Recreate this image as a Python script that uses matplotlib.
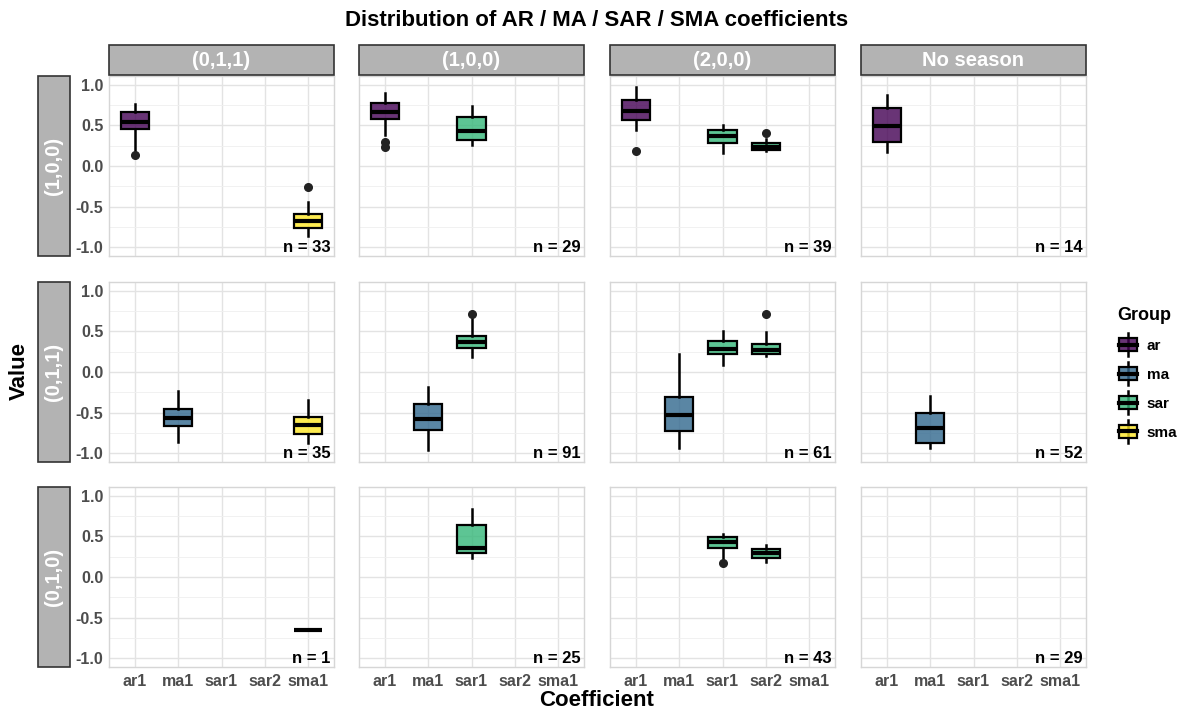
import numpy as np
import matplotlib.pyplot as plt
from matplotlib.patches import Rectangle, Patch
from matplotlib.lines import Line2D
from matplotlib.legend_handler import HandlerBase
from matplotlib.colors import to_rgba

plt.rcParams['font.family'] = ['Liberation Sans', 'DejaVu Sans']

# facets
seasons = ['(0,1,1)', '(1,0,0)', '(2,0,0)', 'No season']
orders = ['(1,0,0)', '(0,1,1)', '(0,1,0)']
coefs = ['ar1', 'ma1', 'sar1', 'sar2', 'sma1']
groups = ['ar', 'ma', 'sar', 'sma']
group_colors = ['#440154', '#31688E', '#35B779', '#FDE725']

# one entry per box
box_order = ['(1,0,0)', '(1,0,0)', '(1,0,0)', '(1,0,0)', '(1,0,0)', '(1,0,0)', '(1,0,0)', '(1,0,0)',
             '(0,1,1)', '(0,1,1)', '(0,1,1)', '(0,1,1)', '(0,1,1)', '(0,1,1)', '(0,1,1)', '(0,1,1)',
             '(0,1,0)', '(0,1,0)', '(0,1,0)', '(0,1,0)']
box_season = ['(0,1,1)', '(0,1,1)', '(1,0,0)', '(1,0,0)', '(2,0,0)', '(2,0,0)', '(2,0,0)', 'No season',
              '(0,1,1)', '(0,1,1)', '(1,0,0)', '(1,0,0)', '(2,0,0)', '(2,0,0)', '(2,0,0)', 'No season',
              '(0,1,1)', '(1,0,0)', '(2,0,0)', '(2,0,0)']
box_coef = ['ar1', 'sma1', 'ar1', 'sar1', 'ar1', 'sar1', 'sar2', 'ar1',
            'ma1', 'sma1', 'ma1', 'sar1', 'ma1', 'sar1', 'sar2', 'ma1',
            'sma1', 'sar1', 'sar1', 'sar2']
whislo = [0.20, -0.86, 0.38, 0.26, 0.45, 0.16, 0.18, 0.17,
          -0.86, -0.88, -0.96, 0.18, -0.94, 0.09, 0.20, -0.94,
          -0.65, 0.24, 0.24, 0.19]
q1 = [0.46, -0.77, 0.58, 0.32, 0.57, 0.28, 0.20, 0.30,
      -0.67, -0.76, -0.71, 0.29, -0.73, 0.22, 0.22, -0.87,
      -0.65, 0.29, 0.36, 0.24]
med = [0.54, -0.68, 0.67, 0.43, 0.68, 0.37, 0.24, 0.49,
       -0.57, -0.65, -0.58, 0.37, -0.53, 0.28, 0.27, -0.69,
       -0.65, 0.355, 0.43, 0.29]
q3 = [0.67, -0.59, 0.78, 0.60, 0.82, 0.44, 0.28, 0.71,
      -0.46, -0.55, -0.40, 0.45, -0.31, 0.38, 0.35, -0.50,
      -0.65, 0.64, 0.49, 0.34]
whishi = [0.77, -0.44, 0.90, 0.74, 0.98, 0.51, 0.33, 0.87,
          -0.24, -0.35, -0.19, 0.65, 0.22, 0.50, 0.49, -0.29,
          -0.65, 0.84, 0.53, 0.40]

# outliers
out_order = ['(1,0,0)', '(1,0,0)', '(1,0,0)', '(1,0,0)', '(1,0,0)', '(1,0,0)',
             '(0,1,1)', '(0,1,1)', '(0,1,0)']
out_season = ['(0,1,1)', '(0,1,1)', '(1,0,0)', '(1,0,0)', '(2,0,0)', '(2,0,0)',
              '(1,0,0)', '(2,0,0)', '(2,0,0)']
out_coef = ['ar1', 'sma1', 'ar1', 'ar1', 'ar1', 'sar2', 'sar1', 'sar2', 'sar1']
out_value = [0.14, -0.26, 0.30, 0.24, 0.19, 0.41, 0.72, 0.71, 0.17]

# number of models per facet (rows = orders, cols = seasons)
n_models = [[33, 29, 39, 14],
            [35, 91, 61, 52],
            [1, 25, 43, 29]]

W, H = 1183, 711
fig = plt.figure(figsize=(W / 100, H / 100), dpi=100)

col_left = [109, 359, 610, 861]
row_top = [76, 282, 487]
pw, ph = 225, 180
strip_bg = '#b3b3b3'
strip_edge = '#333333'
tick_font = dict(fontsize=11.5, fontweight='bold', color='#4d4d4d')

def fx(px):
    return px / W

def fy(py):
    return 1 - py / H

for r, order in enumerate(orders):
    for c, season in enumerate(seasons):
        ax = fig.add_axes([fx(col_left[c]), fy(row_top[r] + ph), fx(pw), ph / H])

        stats, pos, cols = [], [], []
        for i in range(len(box_coef)):
            if box_order[i] == order and box_season[i] == season:
                k = box_coef[i]
                fl = [out_value[j] for j in range(len(out_value))
                      if out_order[j] == order and out_season[j] == season and out_coef[j] == k]
                stats.append(dict(whislo=whislo[i], q1=q1[i], med=med[i], q3=q3[i],
                                  whishi=whishi[i], fliers=fl))
                pos.append(coefs.index(k) + 1)
                g = groups.index(k.rstrip('12'))
                cols.append(to_rgba(group_colors[g], 0.8))
        if stats:
            bp = ax.bxp(stats, positions=pos, widths=0.65, patch_artist=True,
                        showcaps=False,
                        boxprops=dict(edgecolor='black', linewidth=1.6),
                        whiskerprops=dict(color='black', linewidth=1.8),
                        medianprops=dict(color='black', linewidth=3.0),
                        flierprops=dict(marker='o', markersize=5.5, markerfacecolor='#222222',
                                        markeredgecolor='#222222'))
            for b, col in zip(bp['boxes'], cols):
                b.set_facecolor(col)

        ax.set_xlim(0.4, 5.6)
        ax.set_ylim(-1.11, 1.11)
        ax.set_xticks(range(1, 6))
        ax.set_yticks([-1, -0.5, 0, 0.5, 1])
        ax.set_yticks([-0.75, -0.25, 0.25, 0.75], minor=True)
        ax.grid(True, which='major', color='#e3e3e3', lw=1.0)
        ax.grid(True, which='minor', axis='y', color='#efefef', lw=0.6)
        ax.set_axisbelow(True)
        for s in ax.spines.values():
            s.set_color('#d6d6d6')
            s.set_linewidth(1.0)
        ax.tick_params(which='both', length=0)
        if c == 0:
            ax.set_yticklabels(['-1.0', '-0.5', '0.0', '0.5', '1.0'], **tick_font)
            ax.tick_params(axis='y', pad=4)
        else:
            ax.set_yticklabels([])
        if r == len(orders) - 1:
            ax.set_xticklabels(coefs, **tick_font)
            ax.tick_params(axis='x', pad=5)
        else:
            ax.set_xticklabels([])

        ax.text(5.52, -1.0, f'n = {n_models[r][c]}', ha='right', va='center',
                fontsize=12, fontweight='bold', color='black')

# column strips
for c, season in enumerate(seasons):
    fig.add_artist(Rectangle((fx(col_left[c]), fy(75)), fx(pw), 30 / H,
                             transform=fig.transFigure, facecolor=strip_bg,
                             edgecolor=strip_edge, linewidth=1.2))
    fig.text(fx(col_left[c] + pw / 2), fy(60), season, ha='center', va='center',
             color='white', fontsize=14.5, fontweight='bold')

# row strips (outside the y axis)
for r, order in enumerate(orders):
    fig.add_artist(Rectangle((fx(38), fy(row_top[r] + ph)), fx(32), ph / H,
                             transform=fig.transFigure, facecolor=strip_bg,
                             edgecolor=strip_edge, linewidth=1.2))
    fig.text(fx(54), fy(row_top[r] + ph / 2), order, ha='center', va='center',
             rotation=90, color='white', fontsize=14.5, fontweight='bold')

fig.text(fx(597), fy(21), 'Distribution of AR / MA / SAR / SMA coefficients',
         ha='center', va='center', fontsize=16, fontweight='bold')
fig.text(fx(597), fy(701), 'Coefficient', ha='center', va='center',
         fontsize=16, fontweight='bold')
fig.text(fx(19), fy(371), 'Value', ha='center', va='center', rotation=90,
         fontsize=16, fontweight='bold')


class BoxKey(HandlerBase):
    def create_artists(self, legend, orig_handle, xdescent, ydescent, width, height,
                       fontsize, trans):
        cx = width / 2 - xdescent
        bw = width * 0.9
        y0 = -ydescent + height * 0.08
        bh = height * 0.84
        whisk = Line2D([cx, cx], [-ydescent - height * 0.25, -ydescent + height * 1.25],
                       color='black', lw=1.8, transform=trans)
        box = Rectangle((cx - bw / 2, y0), bw, bh, facecolor=orig_handle.get_facecolor(),
                        edgecolor='black', lw=1.6, transform=trans)
        mid = Line2D([cx - bw / 2, cx + bw / 2], [y0 + bh / 2, y0 + bh / 2],
                     color='black', lw=3.0, transform=trans)
        return [whisk, box, mid]


handles = [Patch(facecolor=to_rgba(col, 0.8)) for col in group_colors]
leg = fig.legend(handles, groups, handler_map={Patch: BoxKey()}, title='Group',
                 loc='upper left', bbox_to_anchor=(fx(1104), fy(293)), frameon=False,
                 handlelength=1.3, handleheight=1.2, labelspacing=0.85, handletextpad=0.6,
                 prop=dict(size=11, weight='bold'),
                 title_fontproperties=dict(size=13, weight='bold'))
leg._legend_box.align = 'left'

fig.savefig('out.png', dpi=100)
